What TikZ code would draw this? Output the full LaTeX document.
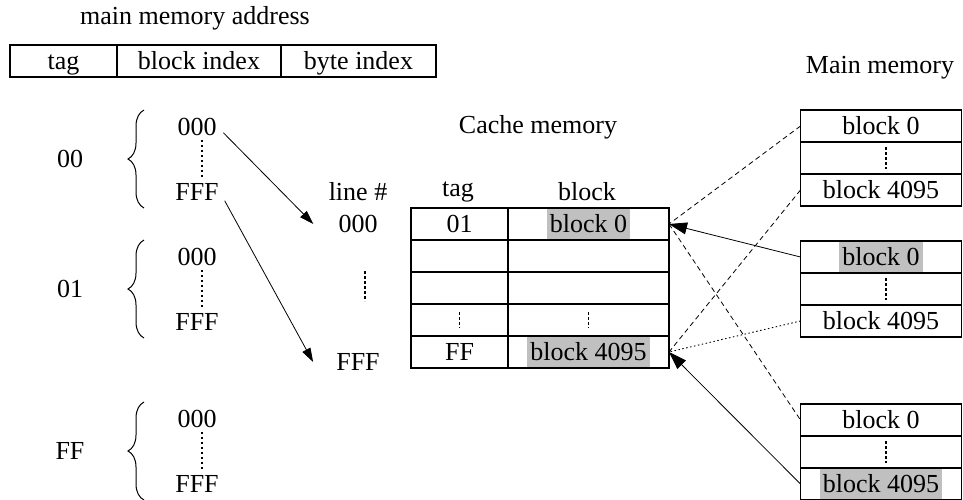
\documentclass[tikz,border=0pt]{standalone}
\usepackage{fontspec}
\setmainfont{Liberation Serif}
\usetikzlibrary{positioning,arrows.meta,decorations.pathreplacing}
\definecolor{shade}{RGB}{192,192,192}
\tikzset{
  cell/.style={draw, line width=1.2pt, minimum height=32pt, inner sep=0pt, outer sep=0pt,
    text height=21pt, text depth=4pt},
  lbl/.style={inner sep=1pt},
  hit/.style={fill=shade, inner xsep=3pt, inner ysep=0pt, minimum height=30pt,
    text height=21pt, text depth=4pt},
  nohit/.style={inner xsep=3pt, inner ysep=0pt, text height=21pt, text depth=4pt},
  vdots/.style={line width=1.3pt, dash pattern=on 2.5pt off 2.5pt},
  fetch/.style={-{Triangle[length=18pt,width=12pt]}, line width=0.8pt},
  maps/.style={-{Triangle[length=14pt,width=9pt]}, line width=0.8pt},
  ghost/.style={line width=0.8pt, dash pattern=on 5pt off 3.5pt},
  faint/.style={line width=0.9pt, dash pattern=on 1.5pt off 2.5pt},
}

\begin{document}
\begin{tikzpicture}[x=1pt,y=-1pt,font=\fontsize{26}{30}\selectfont]
\useasboundingbox (0,0) rectangle (963,499);

% address fields
\node[lbl] (addr) at (195,18) {main memory address};
\node[cell, minimum width=107pt] (aTag) at (63.5,61) {tag};
\node[cell, minimum width=164pt, right=0pt of aTag] (aBlk) {block index};
\node[cell, minimum width=155pt, right=0pt of aBlk] (aByte) {byte index};

% tag groups of main memory
\foreach \t/\c [count=\i] in {00/159,01/289,FF/451} {
  \node[lbl] (grp\i) at (70,\c) {\t};
  \node[lbl] (lo\i) at (197,\c-32) {000};
  \node[lbl] (hi\i) at (197,\c+33) {FFF};
  \draw[vdots] ([xshift=5pt,yshift=-3pt]lo\i.south) -- ([xshift=5pt,yshift=3pt]hi\i.north);
  \draw[decorate, decoration={brace,amplitude=16pt}, line width=1pt] (144,\c+49) -- (144,\c-49);
}

% line numbers
\node[lbl] (lnum) at (358,192) {line \#};
\node[lbl] (l0) at (358,224) {000};
\node[lbl] (lF) at (358,362) {FFF};
\draw[vdots] (365,271) -- (365,301);

% cache
\node[lbl] (cacheT) at (538,127) {Cache memory};
\node[lbl] (hTag) at (458,192) {tag};
\node[lbl] (hBlk) at (587,192) {block};
\node[cell, minimum width=97pt] (t0) at (459.5,224) {01};
\node[cell, minimum width=161pt, right=0pt of t0] (b0) {};
\foreach \r [remember=\r as \p (initially 0)] in {1,...,4} {
  \node[cell, minimum width=97pt, below=0pt of t\p] (t\r) {};
  \node[cell, minimum width=161pt, right=0pt of t\r] (b\r) {};
}
\node[hit] at (b0) {block 0};
\node[nohit] at (t4) {FF};
\node[hit] at (b4) {block 4095};
\draw[vdots] ([yshift=-8pt]t3.north) -- ([yshift=8pt]t3.south);
\draw[vdots] ([yshift=-8pt]b3.north) -- ([yshift=8pt]b3.south);

% main memory
\node[lbl] (mainT) at (880,68) {Main memory};
\foreach \k/\y/\sa/\sc in {1/126/nohit/nohit, 2/257/hit/nohit, 3/420/nohit/hit} {
  \node[cell, minimum width=161pt] (top\k) at (881,\y) {};
  \node[cell, minimum width=161pt, below=0pt of top\k] (mid\k) {};
  \node[cell, minimum width=161pt, below=0pt of mid\k] (bot\k) {};
  \node[\sa] at (top\k) {block 0};
  \node[\sc] at (bot\k) {block 4095};
  \draw[vdots] ([xshift=5pt,yshift=-5pt]mid\k.north) -- ([xshift=5pt,yshift=5pt]mid\k.south);
}

% mapping arrows
\draw[maps, shorten <=8pt] (lo1.east) -- ([xshift=-24pt]l0.west);
\draw[maps, shorten <=10pt] (hi1.east) -- ([xshift=-22pt]lF.west);

\draw[ghost] (top1.west) -- (b0.east);
\draw[fetch] (top2.west) -- (b0.east);
\draw[ghost] (b0.east) -- (top3.west);
\draw[ghost] (bot1.west) -- (b4.east);
\draw[faint] (bot2.west) -- (b4.east);
\draw[fetch] (bot3.west) -- (b4.east);
\end{tikzpicture}
\end{document}
